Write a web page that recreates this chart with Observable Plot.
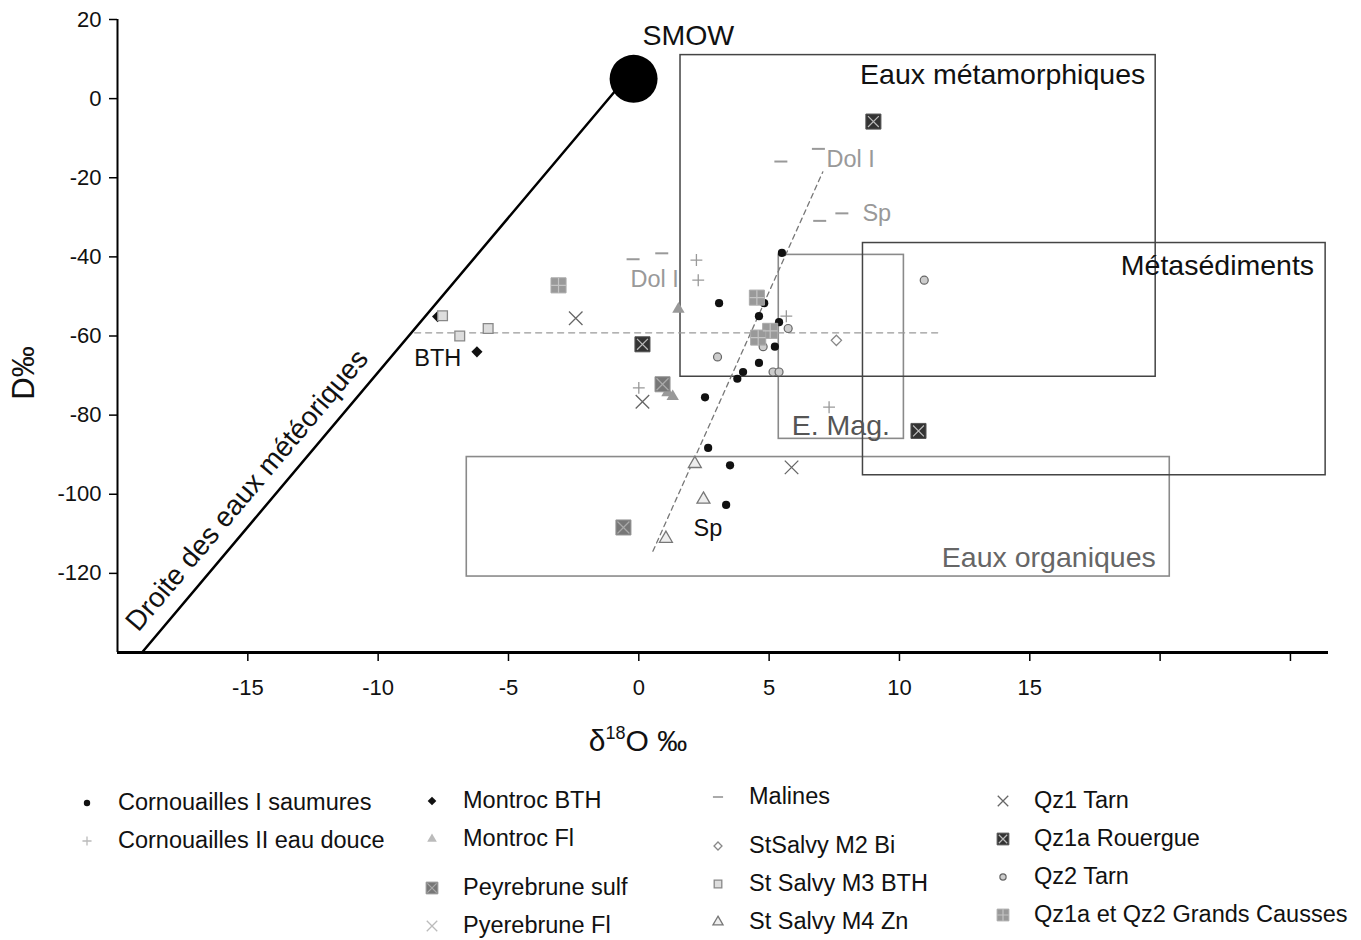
<!DOCTYPE html>
<html><head><meta charset="utf-8">
<script src="https://cdn.jsdelivr.net/npm/d3@7"></script>
<script src="https://cdn.jsdelivr.net/npm/@observablehq/plot@0.6"></script>
<style>
body{margin:0;background:#fff;font-family:"Liberation Sans",Arial,sans-serif;}
#wrap{position:relative;width:1361px;height:940px;overflow:hidden}
#wrap svg.plot{position:absolute;left:0;top:0}
.leg{position:absolute;font-size:23.5px;color:#111;white-space:nowrap;line-height:1}
.legm{position:absolute}
.title{position:absolute;color:#111;white-space:nowrap;line-height:1}
</style></head><body><div id="wrap"></div>
<script>
// ---------- data ----------
const seriesNames = ["Cornouailles I saumures","Cornouailles II eau douce","Montroc BTH","Montroc Fl","Peyrebrune sulf","Pyerebrune Fl","Malines","StSalvy M2 Bi","St Salvy M3 BTH","St Salvy M4 Zn","Qz1 Tarn","Qz1a Rouergue","Qz2 Tarn","Qz1a et Qz2 Grands Causses"];
const cornI = [[5.49,-39.0],[3.08,-51.7],[4.81,-51.7],[4.61,-55.0],[5.38,-56.5],[5.22,-62.7],[4.61,-66.8],[4.0,-69.1],[3.78,-70.8],[2.54,-75.5],[2.66,-88.3],[3.5,-92.7],[3.35,-102.7]];
const cornII = [[2.21,-40.8],[2.28,-45.9],[5.66,-55.0],[0.0,-73.1],[7.3,-78.0]];
const montrocBTH = [[-7.72,-55.1],[-6.21,-64.0]];
const montrocFl = [[1.52,-53.2],[1.1,-74.3],[1.3,-75.3]];
const peyrebruneSulf = [[0.91,-72.2],[-0.59,-108.4]];
const pyerebruneFl = [[0.14,-76.6]];
const malines = [[-0.22,-40.6],[0.88,-39.1],[5.45,-15.9],[6.89,-12.7],[6.94,-30.9],[7.79,-29.0]];
const stSalvyM2 = [[7.58,-61.1]];
const stSalvyM3 = [[-7.53,-54.9],[-6.87,-60.0],[-5.78,-58.1]];
const stSalvyM4 = [[2.15,-92.3],[2.48,-101.3],[1.04,-111.2]];
const qz1Tarn = [[-2.42,-55.5],[5.86,-93.2]];
const qz1aRouergue = [[9.0,-5.8],[0.14,-62.1],[10.73,-84.0]];
const qz2Tarn = [[10.95,-45.9],[5.73,-58.1],[4.77,-62.7],[3.02,-65.3],[5.15,-69.1],[5.38,-69.1]];
const grandsCausses = [[-3.08,-47.2],[4.53,-50.3],[5.04,-58.7],[4.58,-60.4]];
const seriesValues = [cornI,cornII,montrocBTH,montrocFl,peyrebruneSulf,pyerebruneFl,malines,stSalvyM2,stSalvyM3,stSalvyM4,qz1Tarn,qz1aRouergue,qz2Tarn,grandsCausses];

const smow = [{x:-0.2, y:5}];
const meteoricLine = [{x:-19.06,y:-140},{x:-0.9,y:2}];
const hDashed = [{x:-8.6,y:-59.2},{x:11.5,y:-59.2}];
const obliqueDashed = [{x:0.54,y:-114.4},{x:7.06,y:-18.5}];
const boxNames = ["Eaux métamorphiques","Métasédiments","E. Mag.","Eaux organiques"];
const boxX1 = [1.6, 8.6, 5.37, -6.6];
const boxX2 = [19.83, 26.35, 10.17, 20.37];
const boxY1 = [11, -36.5, -39.5, -90.6];
const boxY2 = [-70.3, -95.2, -86.0, -120.8];
const xTicks = [-15,-10,-5,0,5,10,15,20,25];
const xTickLabels = ["-15","-10","-5","0","5","10","15","",""];
const yTicks = [20,0,-20,-40,-60,-80,-100,-120];
const yTickLabels = ["20","0","-20","-40","-60","-80","-100","-120"];
const zoneLabels = [{x:13.96,y:6.0,t:"Eaux métamorphiques"},{x:22.2,y:-42.3,t:"Métasédiments"}];
const zoneLabelsGrey = [{x:7.75,y:-82.6,t:"E. Mag."},{x:15.73,y:-116.0,t:"Eaux organiques"}];
const smowLabel = [{x:1.9,y:15.8,t:"SMOW"}];
const notesGrey = [{x:0.61,y:-45.6,t:"Dol I"},{x:8.13,y:-15.4,t:"Dol I"},{x:9.13,y:-29.1,t:"Sp"}];
const notesBlack = [{x:2.65,y:-108.6,t:"Sp"},{x:-7.71,y:-65.6,t:"BTH"}];
const meteoricLabel = [{x:-15.03,y:-99.0,t:"Droite des eaux météoriques"}];

// ---------- styles ----------
const dash = {draw(ctx, size){const r = Math.sqrt(size/Math.PI); ctx.moveTo(-r,0); ctx.lineTo(r,0);}};
const styles = {
 "Cornouailles I saumures":[{symbol:"circle", r:4.1, fill:"#111"}],
 "Cornouailles II eau douce":[{symbol:"plus", r:3.9, fill:"none", stroke:"#999", strokeWidth:1.3}],
 "Montroc BTH":[{symbol:"diamond2", r:5, fill:"#111"}],
 "Montroc Fl":[{symbol:"triangle", r:4.6, fill:"#999"}],
 "Peyrebrune sulf":[{symbol:"square", r:8.5, fill:"#777", stroke:"#999", strokeWidth:1},{symbol:"times", r:5.5, fill:"none", stroke:"#aaa", strokeWidth:1.2}],
 "Pyerebrune Fl":[{symbol:"times", r:6.2, fill:"none", stroke:"#666", strokeWidth:1.3}],
 "Malines":[{symbol:dash, r:6.5, fill:"none", stroke:"#999", strokeWidth:2}],
 "StSalvy M2 Bi":[{symbol:"diamond2", r:4.6, fill:"#fff", stroke:"#888", strokeWidth:1.3}],
 "St Salvy M3 BTH":[{symbol:"square", r:5.5, fill:"#ddd", stroke:"#888", strokeWidth:1.3}],
 "St Salvy M4 Zn":[{symbol:"triangle", r:4.8, fill:"#eee", stroke:"#777", strokeWidth:1.3}],
 "Qz1 Tarn":[{symbol:"times", r:6.2, fill:"none", stroke:"#666", strokeWidth:1.3}],
 "Qz1a Rouergue":[{symbol:"square", r:8.5, fill:"#333", stroke:"#555", strokeWidth:1},{symbol:"times", r:5, fill:"none", stroke:"#bbb", strokeWidth:1.2}],
 "Qz2 Tarn":[{symbol:"circle", r:4, fill:"#ccc", stroke:"#666", strokeWidth:1.2}],
 "Qz1a et Qz2 Grands Causses":[{symbol:"square", r:8.5, fill:"#999", stroke:"#aaa", strokeWidth:1},{symbol:"plus", r:4.8, fill:"none", stroke:"#c4c4c4", strokeWidth:1.2}]
};

const points = [];
seriesNames.forEach((s,i)=>seriesValues[i].forEach(([x,y])=>points.push({series:s,x,y})));
const boxes = boxNames.map((n,i)=>({name:n,x1:boxX1[i],x2:boxX2[i],y1:boxY1[i],y2:boxY2[i]}));

const FONT = "Liberation Sans, Arial, Helvetica, sans-serif";
const dotMarks = [];
seriesNames.forEach(s=>{
  const d = points.filter(p=>p.series===s);
  styles[s].forEach(l=>dotMarks.push(Plot.dot(d,{x:"x",y:"y",symbol:l.symbol,r:l.r,fill:l.fill,stroke:l.stroke||"none",strokeWidth:l.strokeWidth||1})));
});

const plot = Plot.plot({
  width:1361, height:770,
  marginLeft:117, marginRight:33, marginTop:19, marginBottom:118,
  style:{fontFamily:FONT, fontSize:"22px", color:"#111", background:"transparent"},
  x:{domain:[-20,26.46], label:null},
  y:{domain:[-140,20], label:null},
  marks:[
    Plot.rect(boxes.filter((b,i)=>i>=2),{x1:"x1",x2:"x2",y1:"y1",y2:"y2",fill:"none",stroke:"#8a8a8a",strokeWidth:1.6}),
    Plot.rect(boxes.filter((b,i)=>i<2),{x1:"x1",x2:"x2",y1:"y1",y2:"y2",fill:"none",stroke:"#444",strokeWidth:1.5}),
    Plot.line(hDashed,{x:"x",y:"y",stroke:"#999",strokeWidth:1.3,strokeDasharray:"6,5"}),
    Plot.line(obliqueDashed,{x:"x",y:"y",stroke:"#777",strokeWidth:1.3,strokeDasharray:"5,4"}),
    Plot.line(meteoricLine,{x:"x",y:"y",stroke:"#000",strokeWidth:2.5}),
    Plot.dot(smow,{x:"x",y:"y",r:24,fill:"#000"}),
    ...dotMarks,
    Plot.text(zoneLabels,{x:"x",y:"y",text:"t",fontSize:28.5,fill:"#111"}),
    Plot.text(zoneLabelsGrey.slice(0,1),{x:"x",y:"y",text:"t",fontSize:28.5,fill:"#555"}),
    Plot.text(zoneLabelsGrey.slice(1),{x:"x",y:"y",text:"t",fontSize:28.5,fill:"#666"}),
    Plot.text(smowLabel,{x:"x",y:"y",text:"t",fontSize:28.5,fill:"#111"}),
    Plot.text(notesGrey,{x:"x",y:"y",text:"t",fontSize:23.5,fill:"#999"}),
    Plot.text(notesBlack,{x:"x",y:"y",text:"t",fontSize:23.5,fill:"#111"}),
    Plot.text(meteoricLabel,{x:"x",y:"y",text:"t",fontSize:28,fill:"#111",rotate:-49.8}),
    Plot.ruleX([-20],{y1:-140,y2:20,stroke:"#000",strokeWidth:2}),
    Plot.ruleY([-140],{x1:-20,x2:26.46,stroke:"#000",strokeWidth:2.8}),
    Plot.axisX({ticks:xTicks, tickFormat:(d)=>xTickLabels[xTicks.indexOf(d)], tickSize:9, tickPadding:18, stroke:"#000", strokeWidth:1.5, fontSize:22, label:null}),
    Plot.axisY({ticks:yTicks, tickFormat:(d)=>yTickLabels[yTicks.indexOf(d)], tickSize:8, tickPadding:8, stroke:"#000", strokeWidth:1.5, fontSize:22, label:null})
  ]
});
plot.classList.add("plot");
const wrap = document.getElementById("wrap");
wrap.appendChild(plot);

// axis titles
const yt = document.createElement("div");
yt.className="title"; yt.style.fontSize="31px";
yt.style.left="23px"; yt.style.top="373px"; yt.style.transform="translate(-50%,-50%) rotate(-90deg)";
yt.textContent="D‰";
wrap.appendChild(yt);
const xt = document.createElement("div");
xt.className="title"; xt.style.fontSize="30px";
xt.style.left="638px"; xt.style.top="740px"; xt.style.transform="translate(-50%,-50%)";
xt.innerHTML='δ<sup style="font-size:18px;vertical-align:12px">18</sup>O ‰';
wrap.appendChild(xt);

// legend
const legendPos = {
 "Cornouailles I saumures":[87,803],"Cornouailles II eau douce":[87,841],
 "Montroc BTH":[432,801],"Montroc Fl":[432,839],"Peyrebrune sulf":[432,888],"Pyerebrune Fl":[432,926],
 "Malines":[718,797],"StSalvy M2 Bi":[718,846],"St Salvy M3 BTH":[718,884],"St Salvy M4 Zn":[718,922],
 "Qz1 Tarn":[1003,801],"Qz1a Rouergue":[1003,839],"Qz2 Tarn":[1003,877],"Qz1a et Qz2 Grands Causses":[1003,915]
};
const symMap = {circle:d3.symbolCircle, plus:d3.symbolPlus, times:d3.symbolTimes, diamond2:d3.symbolDiamond2, triangle:d3.symbolTriangle, square:d3.symbolSquare};
const legendScale = 0.78;
seriesNames.forEach(s=>{
  const [mx,my] = legendPos[s];
  const svg = d3.create("svg").attr("class","legm").attr("width",24).attr("height",24)
    .style("left",(mx-12)+"px").style("top",(my-12)+"px");
  styles[s].forEach(l=>{
    const type = typeof l.symbol === "string" ? symMap[l.symbol] : l.symbol;
    const r = l.r*legendScale;
    let fill = l.fill, stroke = l.stroke||"none";
    if (s==="Cornouailles II eau douce"||s==="Pyerebrune Fl") stroke="#bbb";
    if (s==="Montroc Fl") fill="#bbb";
    if (s==="Malines") stroke="#aaa";
    svg.append("path").attr("transform","translate(12,12)")
      .attr("d", d3.symbol(type, r*r*Math.PI)())
      .attr("fill",fill).attr("stroke",stroke).attr("stroke-width",l.strokeWidth||1);
  });
  wrap.appendChild(svg.node());
  const t = document.createElement("div");
  t.className="leg"; t.textContent=s;
  t.style.left=(mx+31)+"px"; t.style.top=my+"px"; t.style.transform="translateY(-50%)";
  wrap.appendChild(t);
});
</script></body></html>
